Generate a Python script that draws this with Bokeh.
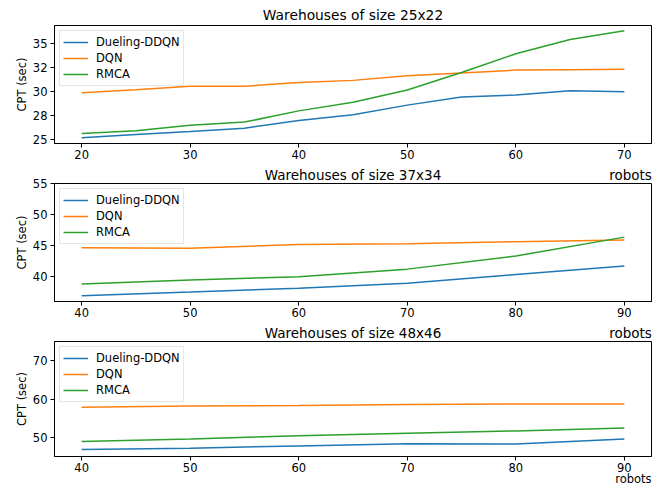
from bokeh.plotting import figure
from bokeh.models import Range1d, FixedTicker, Title, LinearAxis
from bokeh.layouts import column
from bokeh.embed import file_html
from bokeh.resources import INLINE

# ---- data ----
robots_25x22 = [20, 25, 30, 35, 40, 45, 50, 55, 60, 65, 70]
dueling_25x22 = [25.2, 25.55, 25.85, 26.2, 27.0, 27.6, 28.6, 29.45, 29.65, 30.1, 30.0]
dqn_25x22 = [29.9, 30.2, 30.57, 30.57, 30.95, 31.18, 31.65, 31.95, 32.25, 32.3, 32.35]
rmca_25x22 = [25.65, 25.92, 26.5, 26.83, 28.0, 28.9, 30.18, 32.0, 33.95, 35.45, 36.35]

robots_37x34 = [40, 50, 60, 70, 80, 90]
dueling_37x34 = [36.84, 37.42, 38.05, 38.84, 40.26, 41.63]
dqn_37x34 = [44.58, 44.53, 45.12, 45.25, 45.58, 45.84]
rmca_37x34 = [38.72, 39.38, 39.9, 41.14, 43.26, 46.32]

robots_48x46 = [40, 50, 60, 70, 80, 90]
dueling_48x46 = [46.83, 47.17, 47.75, 48.3, 48.27, 49.58]
dqn_48x46 = [57.83, 58.17, 58.33, 58.58, 58.67, 58.67]
rmca_48x46 = [48.92, 49.58, 50.42, 51.08, 51.67, 52.42]

series_names = ["Dueling-DDQN", "DQN", "RMCA"]
titles = ["Warehouses of size 25x22", "Warehouses of size 37x34", "Warehouses of size 48x46"]
x_label = "robots"
y_label = "CPT (sec)"

xticks_25x22 = [20, 30, 40, 50, 60, 70]
xticks_big = [40, 50, 60, 70, 80, 90]
yticks_25x22 = [25, 27.5, 30, 32.5, 35]
ylabels_25x22 = ["25", "28", "30", "32", "35"]
yticks_37x34 = [40, 45, 50, 55]
yticks_48x46 = [50, 60, 70]

# ---- style ----
FONT = "DejaVu Sans"
COLORS = ["#1f77b4", "#ff7f0e", "#2ca02c"]
FS = "11.5px"
TFS = "13.8px"
W = 667
BL, BR = 54, 16
FRAME_W = W - BL - BR


def xlims(x):
    lo, hi = min(x), max(x)
    m = 0.05 * (hi - lo)
    return lo - m, hi + m


def make(title, x, ys, yr, xticks, yticks, ylabels, height, top, bottom):
    xr = xlims(x)
    p = figure(width=W, height=height, output_backend="svg", toolbar_location=None,
               x_range=Range1d(*xr), y_range=Range1d(*yr),
               min_border_left=BL, min_border_right=BR,
               min_border_top=top, min_border_bottom=bottom, title=title)
    p.title.align = "center"
    p.title.text_font = FONT
    p.title.text_font_size = TFS
    p.title.text_font_style = "normal"
    p.title.text_color = "black"
    p.title.standoff = 5
    p.title.offset = 0
    for y, name, c in zip(ys, series_names, COLORS):
        p.line(x, y, line_color=c, line_width=1.5, legend_label=name)
    p.grid.visible = False
    p.outline_line_color = "black"
    p.outline_line_alpha = 1
    p.outline_line_width = 1
    p.background_fill_color = "white"
    p.border_fill_color = "white"

    p.xaxis.ticker = FixedTicker(ticks=xticks)
    p.yaxis.ticker = FixedTicker(ticks=yticks)
    if ylabels is not None:
        p.yaxis.major_label_overrides = {t: l for t, l in zip(yticks, ylabels)}
    for ax in (p.xaxis[0], p.yaxis[0]):
        ax.minor_tick_line_color = None
        ax.major_tick_out = 4
        ax.major_tick_in = 0
        ax.axis_line_color = "black"
        ax.major_tick_line_color = "black"
        ax.major_label_text_font = FONT
        ax.major_label_text_font_size = FS
        ax.major_label_text_color = "black"
    p.xaxis.major_label_standoff = 2
    p.yaxis.major_label_standoff = 3
    p.yaxis.axis_label = y_label
    p.yaxis.axis_label_text_font = FONT
    p.yaxis.axis_label_text_font_size = FS
    p.yaxis.axis_label_text_font_style = "normal"
    p.yaxis.axis_label_text_color = "black"
    p.yaxis.axis_label_standoff = 1

    lg = p.legend[0]
    lg.location = "top_left"
    lg.margin = 5
    lg.padding = 3
    lg.spacing = 0
    lg.label_height = 16
    lg.glyph_height = 16
    lg.glyph_width = 25
    lg.label_standoff = 8
    lg.label_text_font = FONT
    lg.label_text_font_size = FS
    lg.label_text_color = "black"
    lg.border_line_color = "#cccccc"
    lg.border_line_width = 1
    lg.background_fill_alpha = 0.8
    return p, xr


def header_row(p, xr, title_text, prev_xlabel):
    """One text row above the frame: the title (centred) and, at the right,
    the x-axis label of the panel above (both sit on the same line)."""
    xmid = round((xr[0] + xr[1]) / 2, 3)
    half_w = 21.0  # half width of the right-aligned label, px
    xrob = round(xr[1] - half_w * (xr[1] - xr[0]) / FRAME_W, 3)
    ax = LinearAxis(ticker=FixedTicker(ticks=[xmid, xrob]),
                    major_label_overrides={xmid: title_text, xrob: prev_xlabel},
                    axis_line_color=None, major_tick_line_color=None,
                    minor_tick_line_color=None, major_tick_out=0, major_tick_in=0,
                    major_label_standoff=1, major_label_text_font=FONT,
                    major_label_text_font_size="13.5px", major_label_text_color="black")
    p.add_layout(ax, "above")


p1, xr1 = make(titles[0], robots_25x22, [dueling_25x22, dqn_25x22, rmca_25x22], (24.6, 36.9),
               xticks_25x22, yticks_25x22, ylabels_25x22, 163, 25, 20)
p2, xr2 = make("", robots_37x34, [dueling_37x34, dqn_37x34, rmca_37x34], (35.9, 55),
               xticks_big, yticks_37x34, None, 158, 19, 20)
p3, xr3 = make("", robots_48x46, [dueling_48x46, dqn_48x46, rmca_48x46], (45, 75),
               xticks_big, yticks_48x46, None, 165, 19, 30)

header_row(p2, xr2, titles[1], x_label)
header_row(p3, xr3, titles[2], x_label)
p3.add_layout(Title(text=x_label, align="right", standoff=-10, text_font=FONT,
                    text_font_size=FS, text_font_style="normal", text_color="black"), "below")

layout = column(p1, p2, p3, spacing=0)
open("out.html", "w").write(file_html(layout, INLINE))
